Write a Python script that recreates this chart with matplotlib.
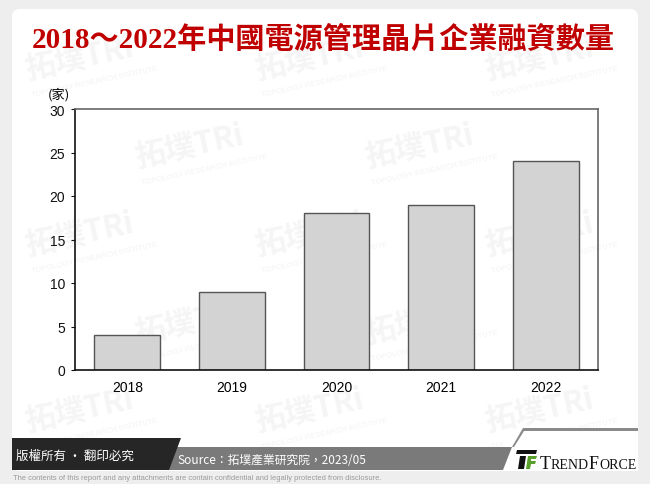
import matplotlib
matplotlib.use("Agg")
import matplotlib.pyplot as plt
from matplotlib.patches import FancyBboxPatch, Polygon, Rectangle

years = ["2018", "2019", "2020", "2021", "2022"]
counts = [4, 9, 18, 19, 24]
y_ticks = [0, 5, 10, 15, 20, 25, 30]

TITLE = "2018～2022年中國電源管理晶片企業融資數量"
SOURCE = "Source：拓墣產業研究院，2023/05"
COPY = "版權所有 · 翻印必究"
NOTE = "The contents of this report and any attachments are contain confidential and legally protected from disclosure."

CJK = ["Noto Sans CJK TC", "DejaVu Sans"]
W, H = 650, 485

fig = plt.figure(figsize=(6.5, 4.85), dpi=100)
fig.patch.set_facecolor("#eeeeee")

# full-figure pixel overlay (y down)
bg = fig.add_axes([0, 0, 1, 1], zorder=0)
bg.set_xlim(0, W); bg.set_ylim(H, 0); bg.axis("off")
card = FancyBboxPatch((12, 10), 626, 462, boxstyle="round,pad=0,rounding_size=8",
                      fc="white", ec="none", zorder=0.1)
bg.add_patch(card)

# faint watermark tiles, kept inside the card
for row, yy in enumerate(range(60, 420, 88)):
    off = 190 if row % 2 else 80
    for xx in range(off, 590, 230):
        bg.text(xx, yy, "拓墣TRi", fontsize=22, color="#f5f5f5", rotation=12,
                ha="center", va="center", family=CJK, fontweight="bold", zorder=0.5)
        bg.text(xx + 15, yy + 22, "TOPOLOGY RESEARCH INSTITUTE", fontsize=5.5, color="#f3f3f3",
                rotation=12, ha="center", va="center", family="Liberation Sans", zorder=0.5)

bg.text(323, 40, TITLE, fontsize=21, color="#c00000", fontweight="bold", zorder=5,
        ha="center", va="center", family=["Liberation Serif", "Noto Sans CJK TC"])

# footer bands
bg.add_patch(Rectangle((503, 430), 135, 42, fc="white", ec="none", zorder=4))
bg.add_patch(Polygon([(140, 448), (512, 448), (503, 471), (140, 471)], fc="#7a7a7a", ec="none", zorder=4))
bg.add_patch(Polygon([(12, 439), (181, 439), (169, 471), (12, 471)], fc="#262626", ec="none", zorder=4))
bg.add_patch(Polygon([(512, 448), (523, 429), (638, 429), (638, 432), (524, 432), (514, 448)],
                     fc="#8a8a8a", ec="none", zorder=4))
bg.text(75, 456, COPY, fontsize=9, color="white", ha="center", va="center", family=CJK, zorder=5)
bg.text(272, 461, SOURCE, fontsize=8.5, color="white", ha="center", va="center", family=CJK, zorder=5)
bg.text(13, 479, NOTE, fontsize=5.4, color="#9a9a9a", ha="left", va="center",
        family="Liberation Sans", zorder=5)

# TrendForce logo
bg.add_patch(Polygon([(517, 451), (537, 451), (536, 455), (516, 455)], fc="#111111", ec="none", zorder=5))
bg.add_patch(Polygon([(520, 457), (526, 457), (524, 470), (518, 470)], fc="#111111", ec="none", zorder=5))
bg.add_patch(Polygon([(528, 457), (537, 457), (536, 460), (531, 460), (531, 462), (536, 462),
                      (535, 465), (531, 465), (530, 470), (526, 470)], fc="#5aa02c", ec="none", zorder=5))
fig.canvas.draw()
r = fig.canvas.get_renderer()
x = 540
for part, fs in [("T", 13), ("REND", 10), ("F", 13), ("ORCE", 10)]:
    t = bg.text(x, 469, part, fontsize=fs, color="#111111", ha="left", va="baseline",
                family="Liberation Serif", zorder=5)
    x += t.get_window_extent(renderer=r).width

# chart
ax = fig.add_axes([75 / W, 1 - 371 / H, (598 - 75) / W, (371 - 110) / H], zorder=1)
ax.patch.set_alpha(0)
ax.bar(years, counts, width=0.63, color="#d3d3d3", edgecolor="#555555", linewidth=1)
ax.set_xlim(-0.5, len(years) - 0.5)
ax.set_ylim(0, 30)
ax.set_yticks(y_ticks)
for s in ["top", "right"]:
    ax.spines[s].set_color("#666666")
for s in ["left", "bottom"]:
    ax.spines[s].set_color("#111111")
for s in ax.spines.values():
    s.set_linewidth(1.2)
ax.tick_params(axis="y", length=3, direction="out", labelsize=10, pad=4, colors="#111111")
ax.tick_params(axis="x", length=0, labelsize=10, pad=7)
for lab in ax.get_xticklabels() + ax.get_yticklabels():
    lab.set_family("Liberation Sans")
ax.text(-0.053, 1.058, "(家)", transform=ax.transAxes, fontsize=9.5, family=CJK,
        ha="left", va="center")

fig.savefig("out.png", dpi=100)
